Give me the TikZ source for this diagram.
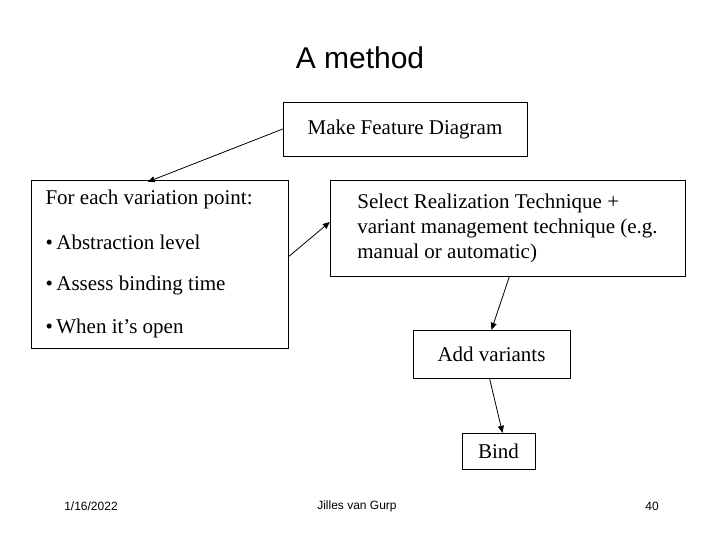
\documentclass[tikz,border=0pt]{standalone}
\usepackage{fontspec}
\setmainfont{Liberation Serif}
\setsansfont{Liberation Sans}
\usetikzlibrary{arrows.meta, positioning}
\tikzset{
    stepbox/.style={rectangle, draw=black, inner sep=0pt, font=\fontsize{21}{25}\selectfont},
    arrow/.style={-{Triangle[length=7pt,width=6pt]}, thick},
    footer/.style={font=\sffamily\fontsize{12}{14}\selectfont},
}
\begin{document}
\begin{tikzpicture}[x=1pt, y=-1pt]
    \useasboundingbox (0,0) rectangle (720,540);
    % Title
    \node[font=\sffamily\fontsize{30}{36}\selectfont] (title) at (360,58) {A method};

    % Boxes
    \node[stepbox, minimum width=244pt, minimum height=54pt] (make) at (405,129) {Make Feature Diagram};
    \node[stepbox, minimum width=257pt, minimum height=168pt] (points) at (159.5,264) {};
    \node[font=\fontsize{21}{25}\selectfont, anchor=west] (p1) at (42,199) {For each variation point:};
    \node[font=\fontsize{21}{25}\selectfont, anchor=west] (p2) at (42,242) {\textbullet\,Abstraction level};
    \node[font=\fontsize{21}{25}\selectfont, anchor=west] (p3) at (42,285) {\textbullet\,Assess binding time};
    \node[font=\fontsize{21}{25}\selectfont, anchor=west] (p4) at (42,328) {\textbullet\,When it’s open};
    \node[stepbox, minimum width=355pt, minimum height=96pt, align=left] (select) at (507.5,228)
        {Select Realization Technique +\\variant management technique (e.g.\\manual or automatic)};
    \node[stepbox, minimum width=157pt, minimum height=48pt] (add) at (491.5,354) {Add variants};
    \node[stepbox, minimum width=73pt, minimum height=36pt] (bind) at (498.5,451) {Bind};

    % Connectors
    \draw[arrow] (make.west) -- ([xshift=117pt,yshift=-2pt]points.north west);
    \draw[arrow] ([yshift=7pt]points.east) -- ([yshift=6pt]select.west);
    \draw[arrow] ([xshift=2pt]select.south) -- ([xshift=0pt]add.north);
    \draw[arrow] ([xshift=-2pt]add.south) -- ([xshift=4pt]bind.north);

    % Footer
    \node[footer] (date) at (91,506) {1/16/2022};
    \node[footer] (author) at (357,506) {Jilles van Gurp};
    \node[footer] (page) at (652,506) {40};
\end{tikzpicture}
\end{document}
